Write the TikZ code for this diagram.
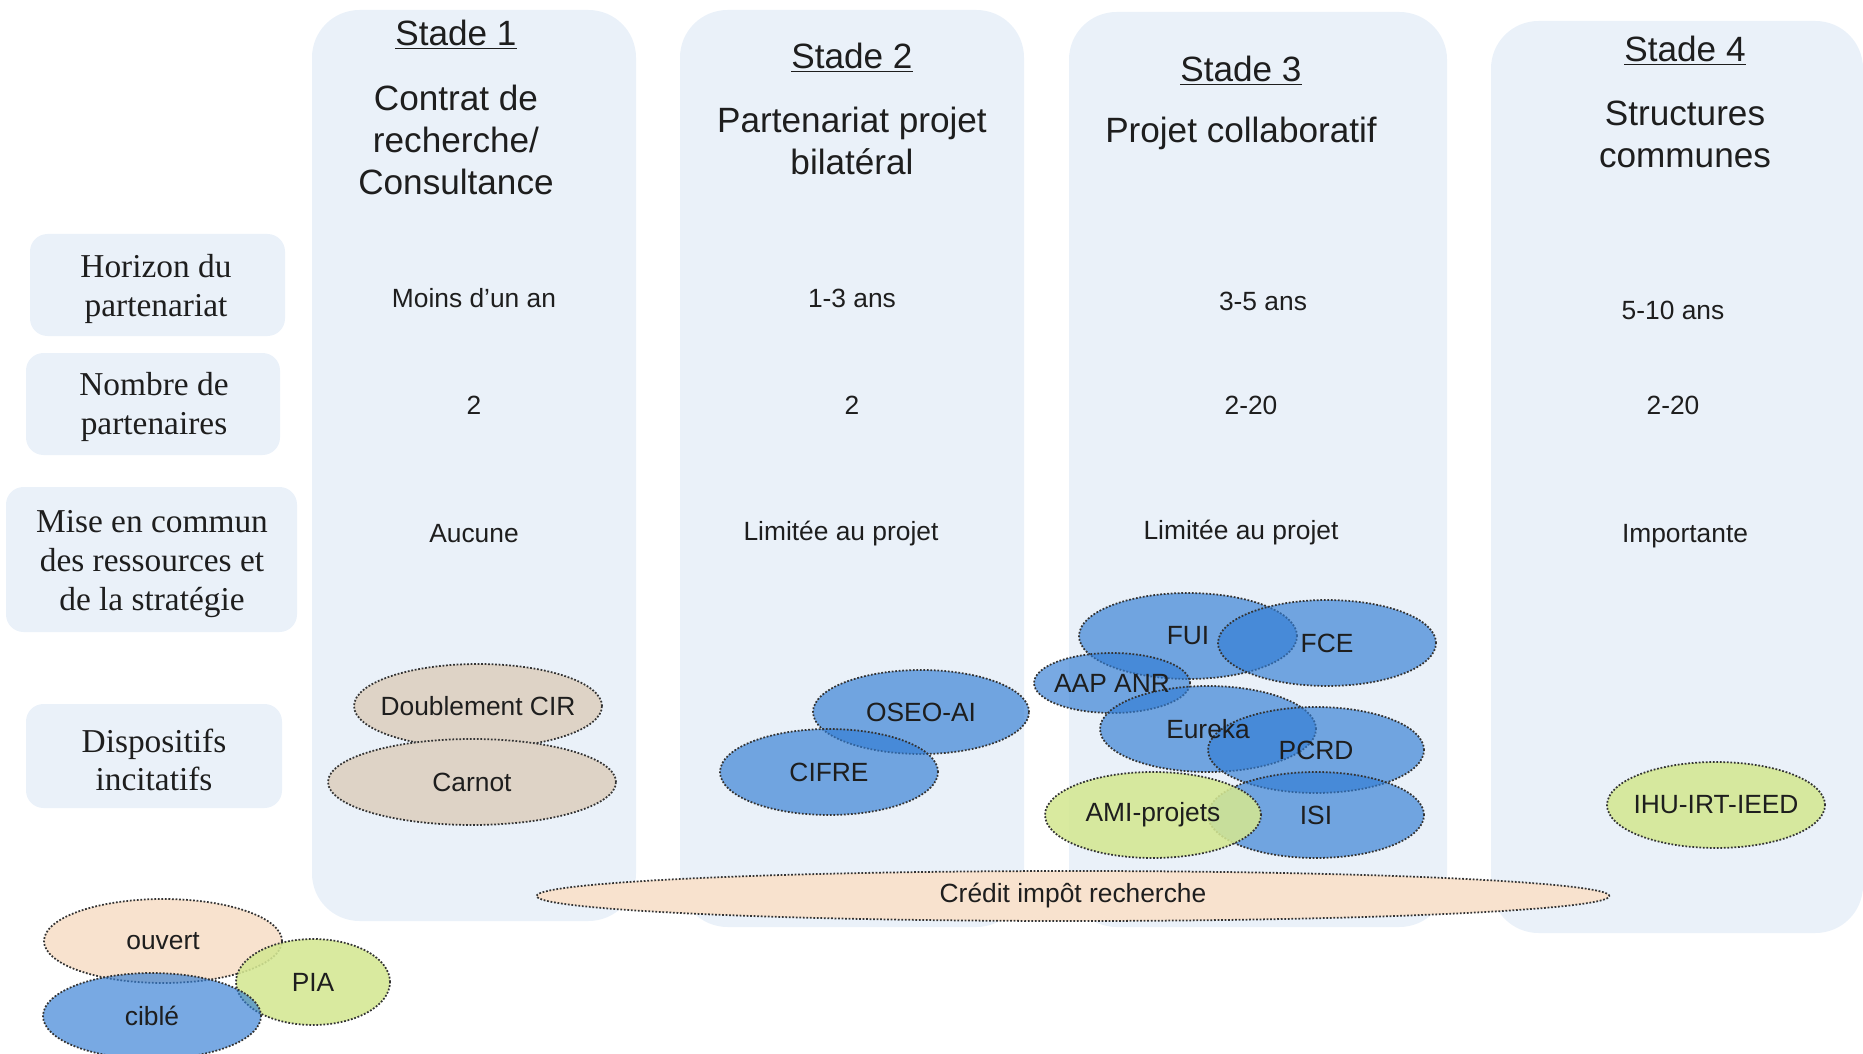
\documentclass[tikz,border=0pt]{standalone}
\usepackage{fontspec}
\setmainfont{Liberation Sans}
\newfontfamily\rowfont{Liberation Serif}
\usepackage{tikz}
\definecolor{colbg}{RGB}{234,241,249}
\definecolor{blueell}{RGB}{50,125,212}
\definecolor{greenell}{RGB}{212,231,146}
\definecolor{taupeell}{RGB}{222,211,198}
\definecolor{peachell}{RGB}{248,226,206}
\definecolor{inktext}{RGB}{30,30,30}
\usetikzlibrary{shapes.geometric}

\begin{document}
\begin{tikzpicture}[x=0.02cm, y=-0.02cm,
	colbox/.style={fill=colbg, rounded corners=0.95cm},
	rowbox/.style={fill=colbg, rounded corners=0.35cm},
	rowtitle/.style={align=center, font=\rowfont\fontsize{19}{22}\selectfont, text=inktext},
	stagetitle/.style={align=center, font=\fontsize{20}{24}\selectfont, text=inktext},
	cellval/.style={font=\fontsize{15}{18}\selectfont, text=inktext},
	ell/.style={ellipse, draw=black!80, line width=1pt, dash pattern=on 1pt off 1pt, inner sep=0pt, minimum width=4.36cm, minimum height=1.72cm},
	blueset/.style={ell, fill=blueell, fill opacity=0.66},
	greenset/.style={ell, fill=greenell, fill opacity=0.88},
	taupeset/.style={ell, fill=taupeell},
	peachset/.style={ell, fill=peachell}]
			\useasboundingbox (0,0) rectangle (1863,1054);
			
			% colonnes des stades
			\fill[colbox] (312,10) rectangle (636,921);
			\fill[colbox] (680,10) rectangle (1024,927);
			\fill[colbox] (1069,12) rectangle (1447,927);
			\fill[colbox] (1491,21) rectangle (1863,933);
			
			% en-tetes des lignes
			\fill[rowbox] (30,234) rectangle (285,336);
			\fill[rowbox] (26,353) rectangle (280,455);
			\fill[rowbox] (6,487) rectangle (297,632);
			\fill[rowbox] (26,704) rectangle (282,808);
			
			\node[rowtitle] (horizon) at (156,289) {Horizon du\\partenariat};
			\node[rowtitle] (nombre) at (154,407) {Nombre de\\partenaires};
			\node[rowtitle] (miseencommun) at (152,564) {Mise en commun\\des ressources et\\de la stratégie};
			\node[rowtitle] (dispositifs) at (154,760) {Dispositifs\\incitatifs};
			
			% titres des stades
			\node[stagetitle] (stade1) at (456,35) {\underline{Stade 1}};
			\node[stagetitle] (type1) at (456,140) {Contrat de\\recherche/\\Consultance};
			\node[stagetitle] (stade2) at (852,58) {\underline{Stade 2}};
			\node[stagetitle] (type2) at (852,141) {Partenariat projet\\bilatéral};
			\node[stagetitle] (stade3) at (1241,71) {\underline{Stade 3}};
			\node[stagetitle] (type3) at (1241,133) {Projet collaboratif};
			\node[stagetitle] (stade4) at (1685,51) {\underline{Stade 4}};
			\node[stagetitle] (type4) at (1685,134) {Structures\\communes};
			
			% valeurs
			\node[cellval] (hor1) at (474,298) {Moins d’un an};
			\node[cellval] (hor2) at (852,298) {1-3 ans};
			\node[cellval] (hor3) at (1263,301) {3-5 ans};
			\node[cellval] (hor4) at (1673,310) {5-10 ans};
			\node[cellval] (nb1) at (474,405) {2};
			\node[cellval] (nb2) at (852,405) {2};
			\node[cellval] (nb3) at (1251,405) {2-20};
			\node[cellval] (nb4) at (1673,405) {2-20};
			\node[cellval] (mise1) at (474,534) {Aucune};
			\node[cellval] (mise2) at (841,534) {Limitée au projet};
			\node[cellval] (mise3) at (1241,533) {Limitée au projet};
			\node[cellval] (mise4) at (1685,536) {Importante};
			
			% dispositifs
			\node[taupeset, minimum width=4.96cm, minimum height=1.68cm] (dcir) at (478,706) {};
			\node[taupeset, minimum width=5.76cm] (carnot) at (472,782) {};
			\node[blueset, minimum width=4.32cm, minimum height=1.68cm] (oseo) at (921,712) {};
			\node[blueset] (cifre) at (829,772) {};
			\node[blueset] (fui) at (1188,636) {};
			\node[blueset] (fce) at (1327,643) {};
			\node[blueset, minimum width=3.12cm, minimum height=1.2cm] (aap) at (1112,683) {};
			\node[blueset, minimum width=4.32cm] (eureka) at (1208,729) {};
			\node[blueset, minimum width=4.32cm] (pcrd) at (1316,750) {};
			\node[blueset, minimum width=4.32cm] (isi) at (1316,815) {};
			\node[greenset, minimum width=4.32cm] (ami) at (1153,815) {};
			\node[greenset] (ihu) at (1716,805) {};
			\node[peachset, minimum width=21.46cm, minimum height=1cm] (cir) at (1073,896) {};
			
			\node[cellval] (dcirtxt) at (dcir) {Doublement CIR};
			\node[cellval] (carnottxt) at (carnot) {Carnot};
			\node[cellval] (oseotxt) at (oseo) {OSEO-AI};
			\node[cellval] (cifretxt) at (cifre) {CIFRE};
			\node[cellval] (fuitxt) at (fui) {FUI};
			\node[cellval] (fcetxt) at (fce) {FCE};
			\node[cellval] (aaptxt) at (aap) {AAP ANR};
			\node[cellval] (eurekatxt) at (eureka) {Eureka};
			\node[cellval] (pcrdtxt) at (pcrd) {PCRD};
			\node[cellval] (isitxt) at (isi) {ISI};
			\node[cellval] (amitxt) at (ami) {AMI-projets};
			\node[cellval] (ihutxt) at (ihu) {IHU-IRT-IEED};
			\node[cellval] (cirtxt) at (cir) {Crédit impôt recherche};
			
			% legende
			\node[peachset, minimum width=4.76cm, minimum height=1.68cm] (ouvert) at (163,941) {};
			\node[greenset, minimum width=3.08cm] (pia) at (313,982) {};
			\node[blueset] (cible) at (152,1016) {};
			\node[cellval] (ouverttxt) at (ouvert) {ouvert};
			\node[cellval] (piatxt) at (pia) {PIA};
			\node[cellval] (cibletxt) at (cible) {ciblé};
			
\end{tikzpicture}
\end{document}
